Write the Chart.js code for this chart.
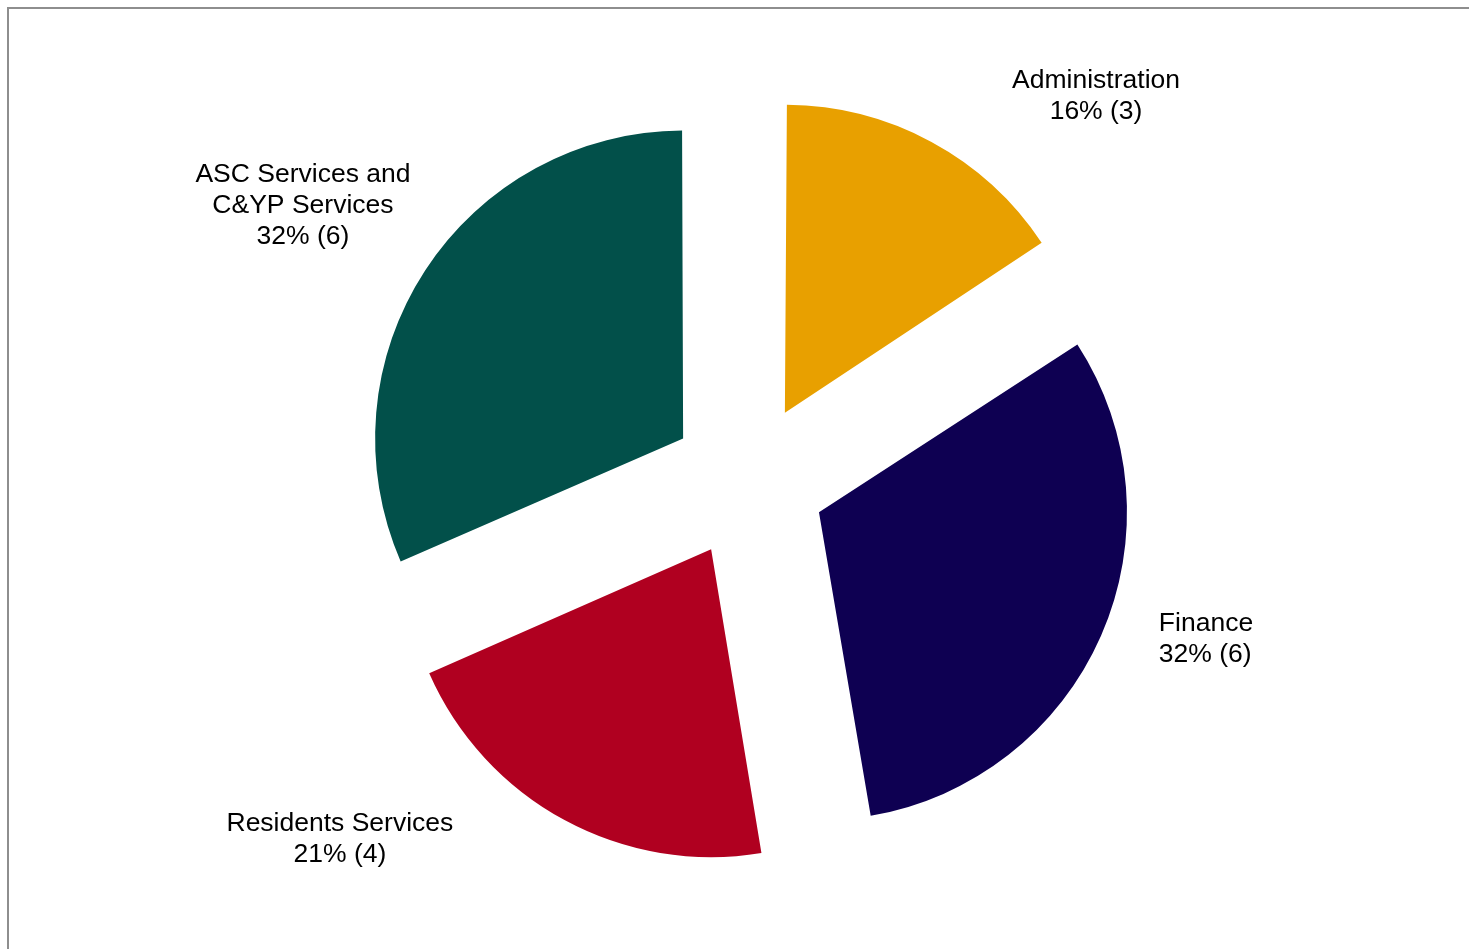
<!DOCTYPE html>
<html>
<head>
<meta charset="utf-8">
<title>Pie</title>
<script src="https://cdn.jsdelivr.net/npm/chart.js@4/dist/chart.umd.min.js"></script>
<style>
  html, body { margin: 0; padding: 0; background: #ffffff; }
  #wrap { width: 1469px; height: 949px; }
</style>
</head>
<body>
<div id="wrap"><canvas id="chartPie" width="1469" height="949"></canvas></div>
<script>
'use strict';

var CATEGORIES = ['Administration', 'Finance', 'Residents Services', ['ASC Services and', 'C&YP Services']];
var VALUES     = [3, 6, 4, 6];
var COLORS     = ['#e8a000', '#0e0052', '#b00020', '#02504a'];

var TOTAL = VALUES.reduce(function (a, b) { return a + b; }, 0);

/* Chart.js translates an arc by offset/4 : explosion of ~77.5 px */
var OFFSET = 310;

/* Chart.js also grows each arc by (offset/4)*fix : cancel it so all slices keep the same radius */
var radiusFixPlugin = {
    id: 'radiusFix',
    beforeDatasetsDraw: function (chart) {
        var meta = chart.getDatasetMeta(0);
        var base = meta.controller.outerRadius;
        meta.data.forEach(function (arc) {
            var circ = arc.endAngle - arc.startAngle;
            var fix  = 1 - Math.sin(Math.min(Math.PI, circ));
            arc.outerRadius = base - (OFFSET / 4) * fix;
        });
    }
};

/* cadre gris haut / gauche */
var framePlugin = {
    id: 'frame',
    beforeDraw: function (chart) {
        var ctx = chart.ctx;
        ctx.save();
        ctx.strokeStyle = '#8e8e8e';
        ctx.lineWidth = 2;
        ctx.beginPath();
        ctx.moveTo(8, chart.height);
        ctx.lineTo(8, 8);
        ctx.lineTo(chart.width, 8);
        ctx.stroke();
        ctx.restore();
    }
};

/* étiquettes : nom + pourcentage (valeur) */
var labelPlugin = {
    id: 'sliceLabels',
    afterDraw: function (chart, args, opts) {
        var ctx  = chart.ctx;
        var meta = chart.getDatasetMeta(0);
        var r    = meta.controller.outerRadius;
        ctx.save();
        ctx.font = '26.5px "Liberation Sans", Arial, sans-serif';
        ctx.fillStyle = '#000000';
        ctx.textBaseline = 'middle';
        meta.data.forEach(function (arc, i) {
            var pos = opts.pos[i];
            var cat = CATEGORIES[i];
            var lines = (Array.isArray(cat) ? cat.slice() : [cat]);
            lines.push(Math.round(VALUES[i] / TOTAL * 100) + '% (' + VALUES[i] + ')');
            var lh = 31;
            var x = arc.x + pos.dx * r;
            var y = arc.y + pos.dy * r - (lines.length - 1) * lh / 2 + 1.5;
            ctx.textAlign = pos.align;
            lines.forEach(function (t, k) {
                ctx.fillText(t, x, y + k * lh);
            });
        });
        ctx.restore();
    }
};

new Chart(document.getElementById('chartPie'), {
    type: 'pie',
    data: {
        labels: CATEGORIES,
        datasets: [{
            data:            VALUES,
            backgroundColor: COLORS,
            borderWidth:     0,
            offset:          OFFSET
        }]
    },
    options: {
        responsive: false,
        animation:  false,
        radius:     308,
        layout: { padding: { left: 27, right: 0, top: 13, bottom: 0 } },
        plugins: {
            legend:  { display: false },
            tooltip: { enabled: false },
            sliceLabels: {
                pos: [
                    { dx:  1.130, dy: -1.253, align: 'center' },
                    { dx:  1.334, dy:  0.510, align: 'left' },
                    { dx: -1.325, dy:  1.159, align: 'center' },
                    { dx: -1.445, dy: -0.899, align: 'center' }
                ]
            }
        }
    },
    plugins: [framePlugin, radiusFixPlugin, labelPlugin]
});
</script>
</body>
</html>
